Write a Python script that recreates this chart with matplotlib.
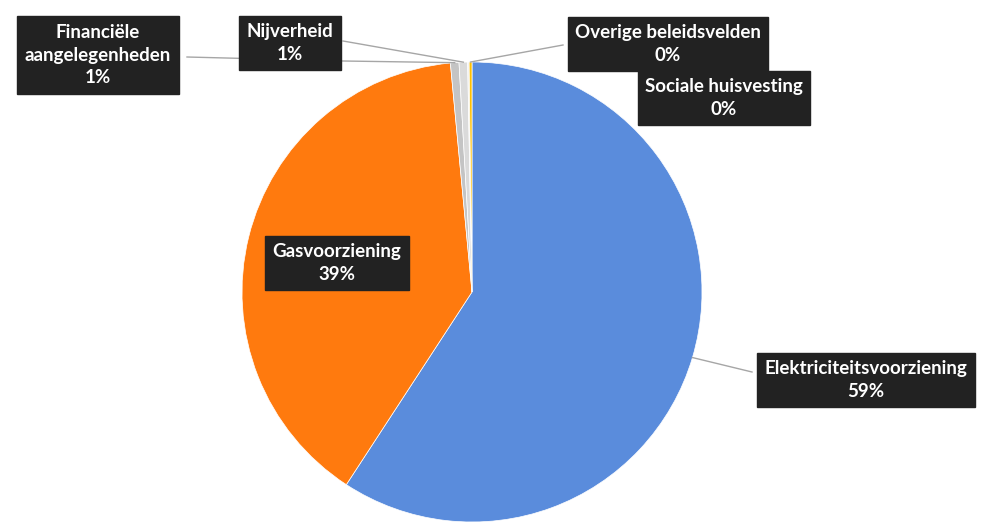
import numpy as np
import matplotlib.pyplot as plt

# slice data, clockwise from 12 o'clock
labels = ["Elektriciteitsvoorziening", "Gasvoorziening", "Financiële\naangelegenheden",
          "Nijverheid", "Sociale huisvesting", "Overige beleidsvelden"]
values = [59.2, 39.3, 0.6, 0.6, 0.1, 0.2]
colors = ["#5A8CDC", "#FF7A0E", "#C4C4C4", "#DADADA", "#EDEDED", "#FFC000"]

# label box centres (pixels, y measured from top)
box_pos = [(866, 380), (337, 263), (98, 55), (290, 43), (724, 98), (668, 44)]
# where the leader lines leave the boxes (None = no line)
line_from = [(752, 372), None, (187, 57), (343, 41), None, (563, 45)]

W, H = 982, 524
cx, cy, R = 472, 292, 230

fig = plt.figure(figsize=(W / 100, H / 100), dpi=100)
ax = fig.add_axes([0, 0, 1, 1])

ax.pie(values, colors=colors, startangle=90, counterclock=False,
       center=(cx, H - cy), radius=R, frame=True,
       wedgeprops=dict(linewidth=0.5, edgecolor="white"))
ax.set_xlim(0, W)
ax.set_ylim(0, H)
ax.set_aspect("equal")
ax.axis("off")

# angle of each slice middle, measured clockwise from the top
total = sum(values)
ends = np.cumsum(values) / total * 360
mids = ends - np.array(values) / total * 360 / 2

for i, lab in enumerate(labels):
    pct = "%d%%" % round(values[i])
    bx, by = box_pos[i]
    ax.text(bx, H - by, lab + "\n" + pct, ha="center", va="center",
            color="white", fontsize=13.5, fontweight="bold", family="Lato",
            linespacing=1.4, zorder=5,
            bbox=dict(boxstyle="square,pad=0.4", fc="#222222", ec="#222222"))
    if line_from[i] is not None:
        a = np.radians(mids[i])
        px = cx + R * np.sin(a)
        py = cy - R * np.cos(a)
        lx, ly = line_from[i]
        if i == 2:
            # Financiële line runs behind the Nijverheid box
            xs = [lx, 343, px]
            ys = [H - ly, H - 61, H - py]
        else:
            xs = [lx, px]
            ys = [H - ly, H - py]
        ax.plot(xs, ys, color="#A6A6A6", lw=1, zorder=1)

fig.savefig("out.png", dpi=100)
